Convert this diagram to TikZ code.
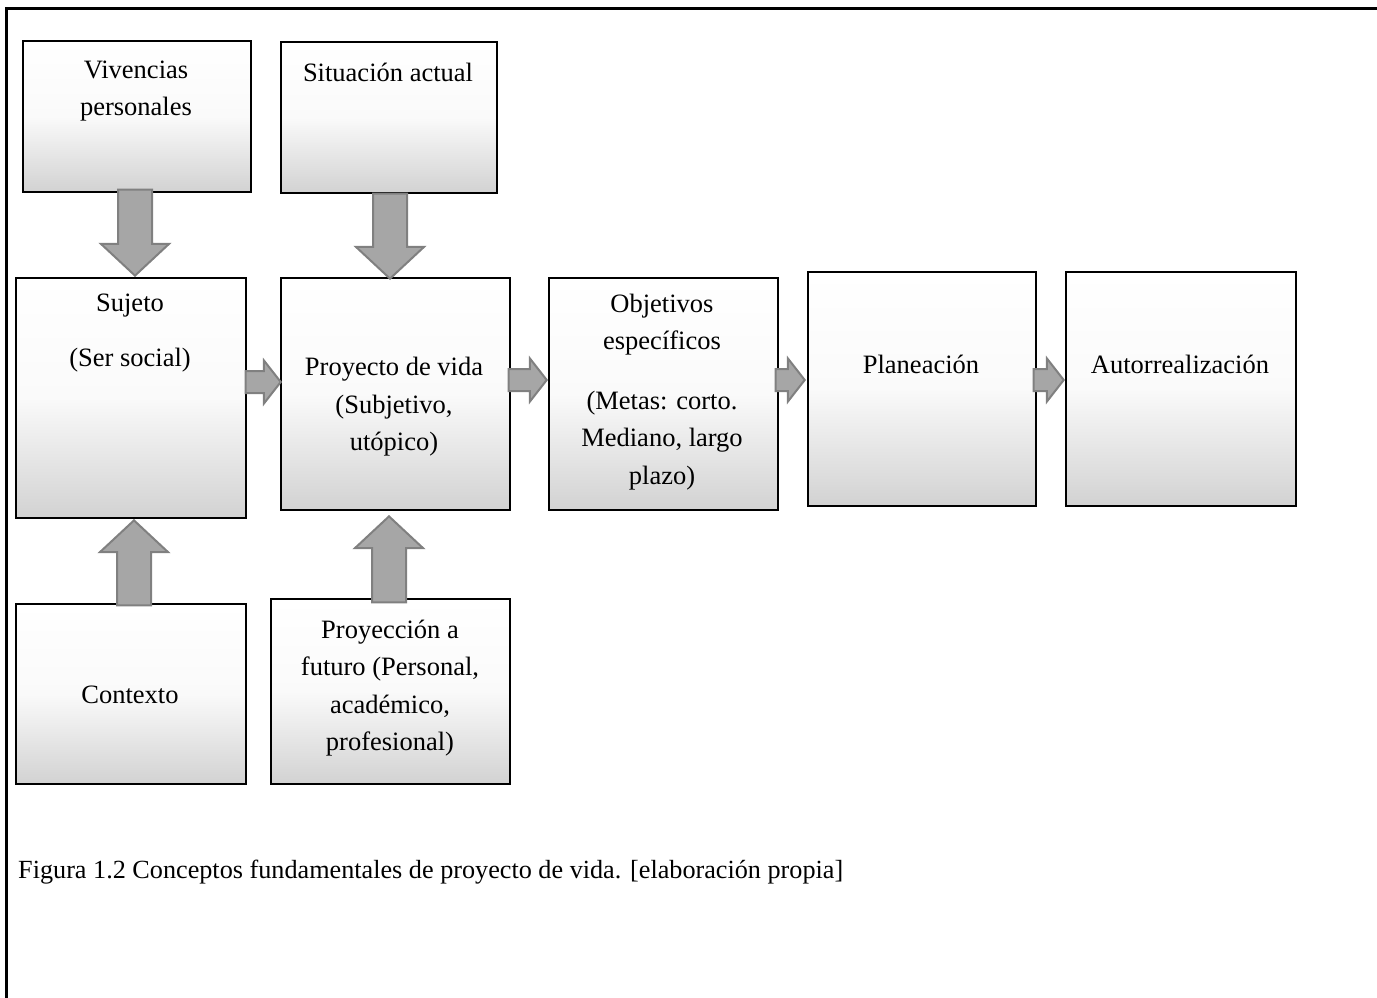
\documentclass[tikz,border=0pt]{standalone}
\usepackage{fontspec}
\setmainfont{Liberation Serif}
\usetikzlibrary{shapes.arrows,calc}
\definecolor{arrowfill}{RGB}{166,166,166}
\definecolor{arrowline}{RGB}{128,128,128}
\definecolor{boxbottom}{RGB}{210,210,210}
\definecolor{boxmid}{RGB}{250,250,250}
\begin{document}
\begin{tikzpicture}[x=1pt,y=-1pt,
  box/.style={draw=black, line width=2pt, top color=white, bottom color=boxbottom, middle color=boxmid, inner sep=0pt, anchor=north west},
  txt/.style={align=center, font=\fontsize{26.5}{37.5}\selectfont, inner sep=0pt},
  blk/.style={single arrow, draw=arrowline, fill=arrowfill, line width=2pt, inner xsep=0pt, single arrow head indent=0pt, anchor=tip},
  vblk/.style={blk, inner ysep=16pt, minimum width=66pt, single arrow head extend=17pt, single arrow tip angle=94},
  hblk/.style={blk, inner ysep=10pt, minimum width=41pt, single arrow head extend=10.5pt, single arrow tip angle=104},
]
\useasboundingbox (0,0) rectangle (1377,998);
\fill[white] (0,0) rectangle (1377,998);
\draw[line width=3pt] (6,998) -- (6,9) -- (1377,9);

% boxes
\node[box, minimum width=228pt, minimum height=151pt] (viv) at (22,40) {};
\node[box, minimum width=216pt, minimum height=151pt] (sit) at (280,41) {};
\node[box, minimum width=230pt, minimum height=240pt] (suj) at (15,277) {};
\node[box, minimum width=229pt, minimum height=232pt] (pro) at (280,277) {};
\node[box, minimum width=229pt, minimum height=232pt] (obj) at (548,277) {};
\node[box, minimum width=228pt, minimum height=234pt] (pla) at (807,271) {};
\node[box, minimum width=230pt, minimum height=234pt] (aut) at (1065,271) {};
\node[box, minimum width=230pt, minimum height=180pt] (con) at (15,603) {};
\node[box, minimum width=239pt, minimum height=185pt] (prn) at (270,598) {};

% texts
\node[txt] (tviv) at (136,91) {Vivencias\\personales};
\node[txt] (tsit) at (388,72) {Situación actual};
\node[txt] (tsuj) at (130,333) {Sujeto\\[18pt](Ser social)};
\node[txt] (tpro) at (394,407) {Proyecto de vida\\(Subjetivo,\\utópico)};
\node[txt] (tobj) at (662,392) {Objetivos\\específicos\\[22pt](Metas: corto.\\Mediano, largo\\plazo)};
\node[txt] (tpla) at (921,364) {Planeación};
\node[txt] (taut) at (1180,364) {Autorrealización};
\node[txt] (tcon) at (130,695) {Contexto};
\node[txt] (tprn) at (390,688) {Proyección a\\futuro (Personal,\\académico,\\profesional)};
\node[txt, anchor=west, font=\fontsize{26.2}{37.5}\selectfont] (cap) at (18,872) {Figura 1.2 Conceptos fundamentales de proyecto de vida. [elaboración propia]};

% block arrows
\node[vblk, rotate=-90, minimum height=86pt] (a1) at ($(suj.north)+(4,0)$) {};
\node[vblk, rotate=-90, minimum height=85pt] (a2) at ($(pro.north)+(-5.5,3)$) {};
\node[vblk, rotate=90, minimum height=85pt] (a3) at ($(suj.south)+(3,0)$) {};
\node[vblk, rotate=90, minimum height=86pt] (a4) at ($(pro.south)+(-6.5,4)$) {};
\node[hblk, minimum height=35pt] (a5) at ($(pro.west)+(2,-12)$) {};
\node[hblk, minimum height=38pt] (a6) at ($(obj.west)+(0,-14)$) {};
\node[hblk, minimum height=29pt] (a7) at ($(pla.west)+(-1,-9)$) {};
\node[hblk, minimum height=30pt] (a8) at ($(aut.west)+(0,-9)$) {};
\end{tikzpicture}
\end{document}
